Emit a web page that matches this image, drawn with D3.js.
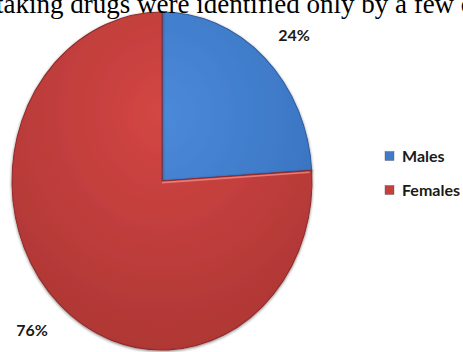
<!DOCTYPE html>
<html><head><meta charset="utf-8">
<script src="https://cdn.jsdelivr.net/npm/d3@7"></script>
<style>html,body{margin:0;padding:0;background:#fff;}svg{display:block;}</style>
</head><body>
<script>
const categories = ["Males", "Females"];
const values = [24, 76];
const labels = ["24%", "76%"];
const headerText = "taking drugs were identified only by a few c";

const W = 463, H = 352;
const svg = d3.select("body").append("svg").attr("width", W).attr("height", H);
const defs = svg.append("defs");

function grad(id, c1, c2) {
  const g = defs.append("radialGradient").attr("id", id)
    .attr("gradientUnits", "userSpaceOnUse").attr("cx", 0).attr("cy", -60).attr("r", 220);
  g.append("stop").attr("offset", "0%").attr("stop-color", c1);
  g.append("stop").attr("offset", "100%").attr("stop-color", c2);
}
grad("gBlue", "#4b8ad9", "#346dba");
grad("gRed", "#d34644", "#ad3634");
const f = defs.append("filter").attr("id", "sh").attr("x", "-10%").attr("y", "-10%").attr("width", "120%").attr("height", "120%");
f.append("feGaussianBlur").attr("in", "SourceAlpha").attr("stdDeviation", 1.5).attr("result", "b");
f.append("feOffset").attr("in", "b").attr("dx", 0).attr("dy", 1).attr("result", "o");
f.append("feComponentTransfer").attr("in", "o").attr("result", "o2")
  .append("feFuncA").attr("type", "linear").attr("slope", 0.5);
const m = f.append("feMerge");
m.append("feMergeNode").attr("in", "o2");
m.append("feMergeNode").attr("in", "SourceGraphic");

const colors = d3.scaleOrdinal().domain(categories).range(["url(#gBlue)", "url(#gRed)"]);
const strokes = d3.scaleOrdinal().domain(categories).range(["#2f5e9c", "#8f2b2a"]);
const legendColors = d3.scaleOrdinal().domain(categories).range(["#3f7bc9", "#c53f3d"]);

const r = 150;
const cx = 162, cy = 181, sy = 169 / 150;
const pie = d3.pie().sort(null).value(d => d.v);
const data = pie(categories.map((c, i) => ({ c, v: values[i] })));
const arc = d3.arc().innerRadius(0).outerRadius(r);

const g = svg.append("g").attr("transform", `translate(${cx},${cy}) scale(1,${sy})`);
g.selectAll("path.slice").data(data).join("path")
  .attr("class", "slice")
  .attr("d", arc)
  .attr("fill", d => colors(d.data.c))
  .attr("stroke", d => strokes(d.data.c))
  .attr("stroke-width", 1)
  .attr("filter", "url(#sh)");
// bevel highlight along the boundary
const bnd = data[0].endAngle;
g.append("line")
  .attr("x1", 0).attr("y1", 1.5)
  .attr("x2", (r - 2) * Math.sin(bnd)).attr("y2", -(r - 2) * Math.cos(bnd) + 1.5)
  .attr("stroke", "#f08a86").attr("stroke-width", 1.5).attr("opacity", 0.8);

// header text
svg.append("text").attr("x", -4).attr("y", 13)
  .attr("font-family", "Liberation Serif, Times New Roman, serif")
  .attr("font-size", 27).attr("fill", "#000").text(headerText);

// percentage labels
const labelPos = [[294, 41], [32, 336]];
svg.selectAll("text.pct").data(labels).join("text")
  .attr("class", "pct")
  .attr("x", (d, i) => labelPos[i][0]).attr("y", (d, i) => labelPos[i][1])
  .attr("text-anchor", "middle")
  .attr("font-family", "Lato, Open Sans, sans-serif").attr("font-weight", "bold")
  .attr("font-size", 16).attr("fill", "#1a1a1a").text(d => d);

// legend
const lg = svg.append("g");
const ly = d3.scalePoint().domain(categories).range([156, 190]);
const items = lg.selectAll("g").data(categories).join("g")
  .attr("transform", d => `translate(385,${ly(d)})`);
items.append("rect").attr("x", 0).attr("y", -4.5).attr("width", 9).attr("height", 9)
  .attr("fill", d => legendColors(d)).attr("stroke", "#555").attr("stroke-width", 0.4);
items.append("text").attr("x", 17).attr("y", 5.5)
  .attr("font-family", "Lato, Open Sans, sans-serif").attr("font-weight", "bold")
  .attr("font-size", 16).attr("fill", "#1a1a1a").text(d => d);
</script>
</body></html>
